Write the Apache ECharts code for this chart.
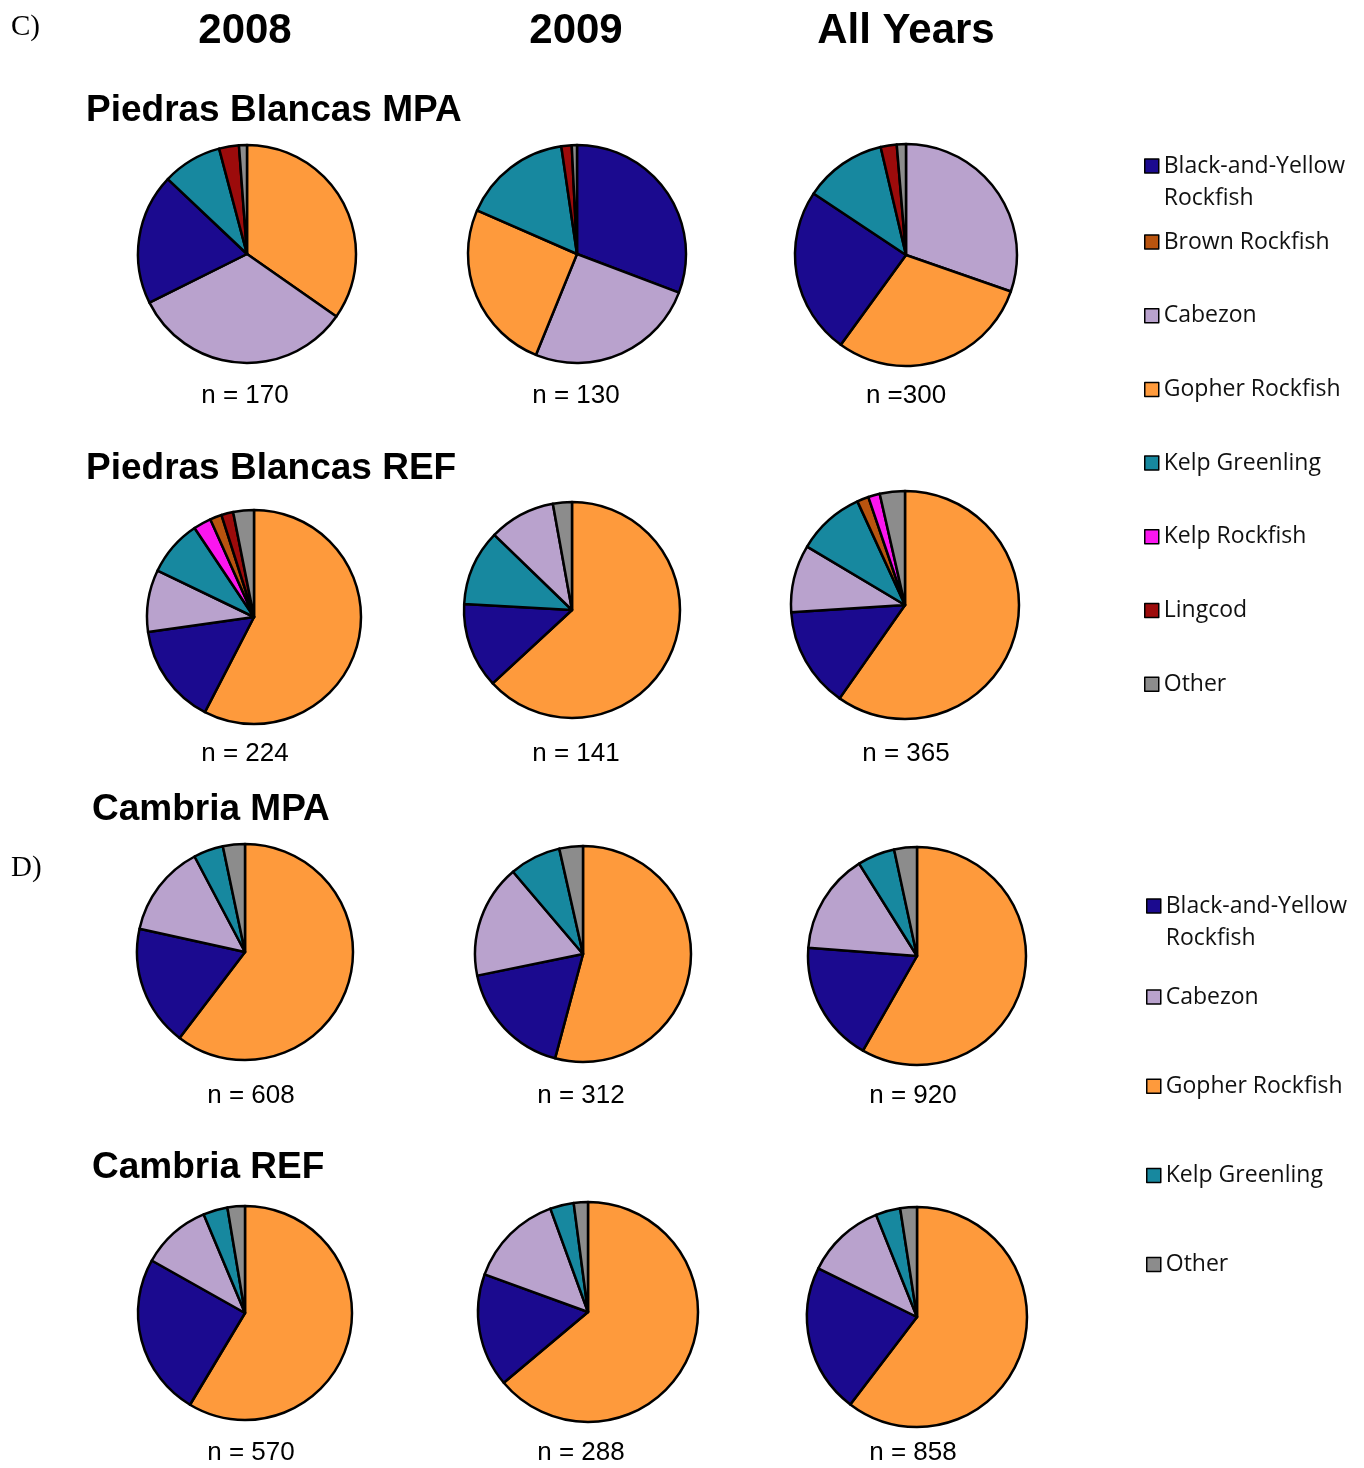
<!DOCTYPE html>
<html>
<head>
<meta charset="utf-8">
<script src="https://cdn.jsdelivr.net/npm/echarts@6/dist/echarts.min.js"></script>
<style>
  html, body { margin: 0; padding: 0; background: #fff; }
  #main { width: 1364px; height: 1468px; }
</style>
</head>
<body>
<div id="main"></div>
<script>
// species names
const BY = 'Black-and-Yellow Rockfish';
const BR = 'Brown Rockfish';
const CZ = 'Cabezon';
const GR = 'Gopher Rockfish';
const KG = 'Kelp Greenling';
const KR = 'Kelp Rockfish';
const LC = 'Lingcod';
const OT = 'Other';

const years = ['2008', '2009', 'All Years'];
const sites = ['Piedras Blancas MPA', 'Piedras Blancas REF', 'Cambria MPA', 'Cambria REF'];

// slice order (clockwise from 12 o'clock) + fish counts per pie
const pbMpa2008Names = [GR, CZ, BY, KG, LC, OT];
const pbMpa2008 = [59, 56, 33, 15, 5, 2];
const pbMpa2009Names = [BY, CZ, GR, KG, LC, OT];
const pbMpa2009 = [40, 33, 33, 21, 2, 1];
const pbMpaAllNames = [CZ, GR, BY, KG, LC, OT];
const pbMpaAll = [91, 89, 73, 36, 7, 4];

const pbRef2008Names = [GR, BY, CZ, KG, KR, BR, LC, OT];
const pbRef2008 = [129, 34, 21, 19, 6, 4, 4, 7];
const pbRef2009Names = [GR, BY, KG, CZ, OT];
const pbRef2009 = [89, 18, 16, 14, 4];
const pbRefAllNames = [GR, BY, CZ, KG, BR, KR, OT];
const pbRefAll = [218, 52, 35, 35, 6, 6, 13];

const cambriaNames = [GR, BY, CZ, KG, OT];
const cambriaMpa2008 = [367, 110, 84, 27, 20];
const cambriaMpa2009 = [169, 55, 53, 24, 11];
const cambriaMpaAll = [536, 165, 137, 51, 31];
const cambriaRef2008 = [334, 140, 60, 21, 15];
const cambriaRef2009 = [184, 48, 40, 10, 6];
const cambriaRefAll = [518, 188, 100, 31, 21];

// legend contents
const legendC = [BY, BR, CZ, GR, KG, KR, LC, OT];
const legendD = [BY, CZ, GR, KG, OT];

const colors = {
  [BY]: '#1b0a8f',
  [BR]: '#b9540f',
  [CZ]: '#b9a2cd',
  [GR]: '#fe9a3c',
  [KG]: '#17889f',
  [KR]: '#fb16ef',
  [LC]: '#9c0b0b',
  [OT]: '#8c8c8c'
};

// pie grid: rows = sites, cols = years
const pies = [
  { names: pbMpa2008Names, values: pbMpa2008, c: [247, 254], r: 109, n: [245, 396], pre: 'n = ' },
  { names: pbMpa2009Names, values: pbMpa2009, c: [577, 254], r: 109, n: [576, 396], pre: 'n = ' },
  { names: pbMpaAllNames, values: pbMpaAll, c: [906, 255], r: 111, n: [906, 396], pre: 'n =' },
  { names: pbRef2008Names, values: pbRef2008, c: [254, 617], r: 107, n: [245, 754], pre: 'n = ' },
  { names: pbRef2009Names, values: pbRef2009, c: [572, 610], r: 108, n: [576, 754], pre: 'n = ' },
  { names: pbRefAllNames, values: pbRefAll, c: [905, 605], r: 114, n: [906, 754], pre: 'n = ' },
  { names: cambriaNames, values: cambriaMpa2008, c: [245, 952], r: 108, n: [251, 1096], pre: 'n = ' },
  { names: cambriaNames, values: cambriaMpa2009, c: [583, 954], r: 108, n: [581, 1096], pre: 'n = ' },
  { names: cambriaNames, values: cambriaMpaAll, c: [917, 956], r: 109, n: [913, 1096], pre: 'n = ' },
  { names: cambriaNames, values: cambriaRef2008, c: [245, 1313], r: 107, n: [251, 1453], pre: 'n = ' },
  { names: cambriaNames, values: cambriaRef2009, c: [588, 1312], r: 110, n: [581, 1453], pre: 'n = ' },
  { names: cambriaNames, values: cambriaRefAll, c: [917, 1317], r: 110, n: [913, 1453], pre: 'n = ' }
];

const chart = echarts.init(document.getElementById('main'), null, { renderer: 'canvas' });

const series = pies.map(p => ({
  type: 'pie',
  center: p.c,
  radius: p.r,
  startAngle: 90,
  clockwise: true,
  silent: true,
  animation: false,
  label: { show: false },
  labelLine: { show: false },
  itemStyle: { borderColor: '#000', borderWidth: 2.5 },
  data: p.names.map((nm, i) => ({ name: nm, value: p.values[i], itemStyle: { color: colors[nm] } }))
}));

const sum = arr => arr.reduce((a, b) => a + b, 0);

const boldFont = 'bold 42px "Liberation Sans", Arial, sans-serif';
const siteFont = 'bold 37px "Liberation Sans", Arial, sans-serif';
const nFont = '26px "Liberation Sans", Arial, sans-serif';
const panelFont = '29px "Liberation Serif", "Times New Roman", serif';

const txt = (text, x, y, font, align) => ({
  type: 'text', x: x, y: y, silent: true,
  style: { text: text, font: font, fill: '#000', textAlign: align || 'center', textVerticalAlign: 'middle' }
});

const graphics = [
  txt('C)', 11, 27, panelFont, 'left'),
  txt('D)', 11, 868, panelFont, 'left'),
  txt(years[0], 245, 31, boldFont),
  txt(years[1], 576, 31, boldFont),
  txt(years[2], 906, 31, boldFont),
  txt(sites[0], 86, 111, siteFont, 'left'),
  txt(sites[1], 86, 469, siteFont, 'left'),
  txt(sites[2], 92, 810, siteFont, 'left'),
  txt(sites[3], 92, 1168, siteFont, 'left')
];
pies.forEach(p => graphics.push(txt(p.pre + sum(p.values), p.n[0], p.n[1], nFont)));

const legendText = { fontFamily: '"Open Sans", sans-serif', fontSize: 23, color: '#111', lineHeight: 32 };
const legendBase = {
  orient: 'vertical',
  selectedMode: false,
  icon: 'rect',
  itemWidth: 14,
  itemHeight: 14,
  padding: 0,
  itemStyle: { borderColor: '#000', borderWidth: 1.5 },
  textStyle: legendText
};
// two-line first entry: an empty leading line keeps the icon on the first text line
const byFormatter = name => (name === BY ? '\nBlack-and-Yellow\nRockfish' : name);

const legends = [
  Object.assign({}, legendBase, { left: 1144, top: 166 - 48, data: [BY], formatter: byFormatter }),
  Object.assign({}, legendBase, { left: 1144, top: 242 - 16, itemGap: 41.7, data: legendC.slice(1) }),
  Object.assign({}, legendBase, { left: 1146, top: 906 - 48, data: [BY], formatter: byFormatter }),
  Object.assign({}, legendBase, { left: 1146, top: 997 - 16, itemGap: 57.2, data: legendD.slice(1) })
];

chart.setOption({
  backgroundColor: '#ffffff',
  animation: false,
  legend: legends,
  graphic: { elements: graphics },
  series: series
});
</script>
</body>
</html>
